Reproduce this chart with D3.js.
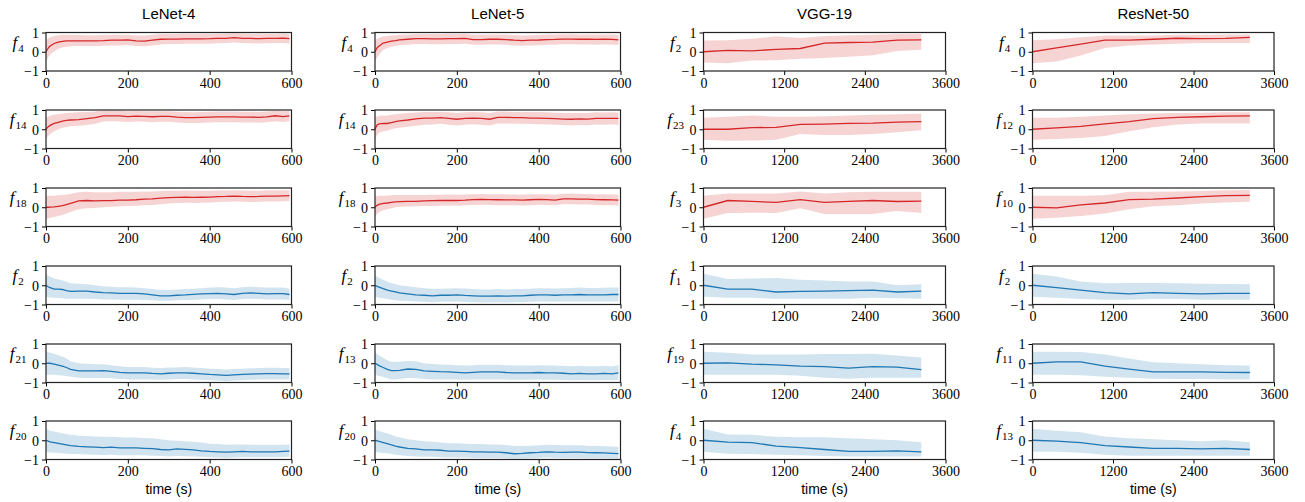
<!DOCTYPE html>
<html>
<head>
<meta charset="utf-8">
<script src="https://cdn.jsdelivr.net/npm/d3@7"></script>
<style>
  body { margin: 0; background: #fff; }
  .title { font-family: "Liberation Sans", sans-serif; font-size: 15px; text-anchor: middle; }
  .xlab { font-family: "Liberation Sans", sans-serif; font-size: 14px; text-anchor: middle; }
  .ylab { font-family: "Liberation Serif", serif; text-anchor: middle; }
</style>
</head>
<body>
<svg id="chart" width="1305" height="502"></svg>
<script>
// ---- data ----
var models = ["LeNet-4", "LeNet-5", "VGG-19", "ResNet-50"];
var yTicks = [-1, 0, 1];
var lenetTicks = [0, 200, 400, 600];
var longTicks = [0, 1200, 2400, 3600];

// feature index shown on each row, per model
var l4Features = ["4", "14", "18", "2", "21", "20"];
var l5Features = ["4", "14", "18", "2", "13", "20"];
var vggFeatures = ["2", "23", "3", "1", "19", "4"];
var resFeatures = ["4", "12", "10", "2", "11", "13"];

// sampling times (s)
var lenetTime = [0,5,10,20,30,40,50,60,80,100,120,140,160,180,200,220,240,260,280,300,320,340,360,380,400,420,440,460,480,500,520,540,560,580,595];
var longTime = [0,360,720,1080,1440,1800,2160,2520,2880,3240];

// LeNet-4
var l4f4Mean = [0,0.18,0.3,0.43,0.5,0.54,0.56,0.57,0.57,0.56,0.57,0.58,0.6,0.6,0.62,0.56,0.55,0.6,0.65,0.66,0.66,0.67,0.67,0.67,0.68,0.7,0.7,0.73,0.7,0.69,0.68,0.69,0.7,0.71,0.68];
var l4f4Hi = [0.6,0.68,0.75,0.82,0.86,0.88,0.88,0.88,0.87,0.86,0.86,0.87,0.88,0.88,0.88,0.85,0.84,0.88,0.92,0.92,0.92,0.93,0.92,0.93,0.93,0.94,0.95,0.96,0.95,0.94,0.93,0.93,0.94,0.95,0.93];
var l4f4Lo = [-0.5,-0.3,-0.15,0.02,0.15,0.22,0.26,0.28,0.3,0.3,0.3,0.31,0.33,0.33,0.35,0.3,0.28,0.33,0.38,0.4,0.4,0.41,0.41,0.42,0.42,0.44,0.45,0.48,0.45,0.44,0.43,0.44,0.45,0.46,0.43];
var l4f14Mean = [0,0.12,0.2,0.3,0.36,0.42,0.46,0.48,0.5,0.55,0.6,0.7,0.7,0.69,0.66,0.68,0.67,0.65,0.67,0.67,0.63,0.6,0.6,0.62,0.63,0.64,0.64,0.64,0.63,0.63,0.62,0.64,0.7,0.66,0.7];
var l4f14Hi = [0.6,0.65,0.7,0.75,0.78,0.82,0.85,0.86,0.88,0.9,0.92,0.97,0.97,0.96,0.94,0.95,0.94,0.93,0.94,0.94,0.91,0.89,0.88,0.9,0.91,0.92,0.92,0.92,0.91,0.91,0.9,0.92,0.96,0.94,0.96];
var l4f14Lo = [-0.5,-0.35,-0.25,-0.1,0,0.08,0.12,0.15,0.18,0.22,0.28,0.4,0.42,0.4,0.38,0.4,0.39,0.37,0.39,0.39,0.35,0.32,0.32,0.33,0.35,0.36,0.36,0.36,0.35,0.35,0.34,0.36,0.42,0.38,0.42];
var l4f18Mean = [0,0,0.01,0.02,0.05,0.08,0.14,0.2,0.33,0.35,0.33,0.34,0.34,0.37,0.37,0.39,0.42,0.43,0.47,0.5,0.51,0.52,0.51,0.52,0.53,0.55,0.56,0.58,0.56,0.55,0.56,0.58,0.58,0.59,0.6];
var l4f18Hi = [0.6,0.6,0.6,0.6,0.62,0.63,0.66,0.7,0.78,0.8,0.78,0.78,0.78,0.8,0.8,0.8,0.82,0.82,0.84,0.86,0.86,0.87,0.86,0.86,0.86,0.87,0.87,0.88,0.87,0.86,0.86,0.88,0.88,0.88,0.88];
var l4f18Lo = [-0.6,-0.58,-0.55,-0.5,-0.45,-0.4,-0.32,-0.25,-0.1,-0.05,-0.04,0,0.02,0.05,0.06,0.08,0.1,0.12,0.16,0.2,0.22,0.23,0.22,0.24,0.25,0.27,0.28,0.3,0.28,0.27,0.28,0.3,0.3,0.31,0.32];
var l4f2Mean = [0,-0.08,-0.12,-0.2,-0.2,-0.22,-0.28,-0.32,-0.3,-0.3,-0.35,-0.38,-0.4,-0.42,-0.42,-0.42,-0.45,-0.5,-0.55,-0.55,-0.52,-0.5,-0.47,-0.45,-0.43,-0.42,-0.45,-0.48,-0.42,-0.4,-0.42,-0.45,-0.44,-0.43,-0.48];
var l4f2Hi = [0.6,0.5,0.45,0.35,0.3,0.25,0.18,0.1,0.08,0.05,0,-0.05,-0.08,-0.1,-0.1,-0.12,-0.15,-0.2,-0.25,-0.25,-0.22,-0.2,-0.18,-0.15,-0.12,-0.1,-0.12,-0.15,-0.1,-0.08,-0.1,-0.12,-0.12,-0.12,-0.18];
var l4f2Lo = [-0.6,-0.62,-0.63,-0.65,-0.66,-0.68,-0.7,-0.7,-0.7,-0.7,-0.72,-0.74,-0.74,-0.75,-0.75,-0.75,-0.76,-0.78,-0.8,-0.8,-0.78,-0.77,-0.76,-0.74,-0.72,-0.72,-0.74,-0.76,-0.72,-0.7,-0.72,-0.74,-0.74,-0.74,-0.76];
var l4f21Mean = [0,0,0,-0.05,-0.1,-0.15,-0.22,-0.32,-0.4,-0.4,-0.4,-0.38,-0.42,-0.47,-0.5,-0.5,-0.5,-0.53,-0.55,-0.52,-0.5,-0.5,-0.52,-0.55,-0.58,-0.6,-0.63,-0.6,-0.58,-0.56,-0.55,-0.54,-0.54,-0.55,-0.55];
var l4f21Hi = [0.6,0.58,0.55,0.5,0.42,0.35,0.25,0.1,0,-0.02,-0.05,-0.05,-0.1,-0.15,-0.2,-0.2,-0.2,-0.23,-0.25,-0.22,-0.22,-0.2,-0.22,-0.25,-0.28,-0.3,-0.32,-0.3,-0.28,-0.26,-0.25,-0.24,-0.24,-0.25,-0.25];
var l4f21Lo = [-0.6,-0.6,-0.6,-0.6,-0.62,-0.63,-0.66,-0.7,-0.75,-0.76,-0.76,-0.76,-0.78,-0.82,-0.84,-0.84,-0.84,-0.85,-0.86,-0.84,-0.82,-0.82,-0.84,-0.86,-0.88,-0.9,-0.92,-0.9,-0.88,-0.86,-0.85,-0.84,-0.84,-0.85,-0.85];
var l4f20Mean = [0,-0.04,-0.08,-0.12,-0.16,-0.2,-0.24,-0.28,-0.32,-0.34,-0.36,-0.38,-0.36,-0.4,-0.4,-0.4,-0.42,-0.44,-0.48,-0.5,-0.45,-0.47,-0.5,-0.55,-0.58,-0.6,-0.62,-0.6,-0.58,-0.6,-0.6,-0.6,-0.6,-0.58,-0.57];
var l4f20Hi = [0.6,0.55,0.5,0.45,0.4,0.36,0.32,0.28,0.24,0.22,0.2,0.18,0.18,0.15,0.14,0.14,0.12,0.1,0.05,0,-0.02,-0.05,-0.08,-0.12,-0.18,-0.2,-0.24,-0.22,-0.22,-0.24,-0.24,-0.24,-0.24,-0.23,-0.22];
var l4f20Lo = [-0.6,-0.62,-0.64,-0.65,-0.66,-0.68,-0.7,-0.72,-0.72,-0.74,-0.75,-0.76,-0.75,-0.78,-0.78,-0.78,-0.78,-0.8,-0.82,-0.84,-0.82,-0.83,-0.84,-0.86,-0.88,-0.9,-0.92,-0.9,-0.88,-0.88,-0.88,-0.88,-0.88,-0.87,-0.86];

// LeNet-5
var l5f4Mean = [0,0.2,0.3,0.45,0.5,0.55,0.58,0.62,0.65,0.68,0.68,0.67,0.67,0.68,0.68,0.69,0.63,0.63,0.65,0.65,0.63,0.6,0.58,0.6,0.61,0.63,0.64,0.66,0.66,0.65,0.65,0.64,0.65,0.64,0.62];
var l5f4Hi = [0.6,0.68,0.72,0.8,0.82,0.85,0.86,0.88,0.9,0.92,0.92,0.92,0.92,0.93,0.93,0.94,0.9,0.89,0.9,0.9,0.89,0.87,0.85,0.86,0.87,0.89,0.9,0.91,0.91,0.9,0.9,0.9,0.9,0.89,0.88];
var l5f4Lo = [-0.5,-0.3,-0.15,0.1,0.2,0.26,0.3,0.34,0.37,0.4,0.4,0.39,0.39,0.4,0.4,0.41,0.36,0.36,0.38,0.38,0.36,0.33,0.31,0.33,0.34,0.36,0.37,0.39,0.39,0.38,0.38,0.37,0.38,0.37,0.35];
var l5f14Mean = [0,0.22,0.28,0.3,0.3,0.35,0.4,0.43,0.48,0.54,0.58,0.58,0.6,0.56,0.52,0.56,0.58,0.56,0.52,0.62,0.62,0.6,0.6,0.58,0.58,0.57,0.55,0.53,0.52,0.54,0.53,0.57,0.56,0.57,0.56];
var l5f14Hi = [0.6,0.66,0.7,0.72,0.72,0.75,0.78,0.8,0.84,0.87,0.9,0.9,0.9,0.88,0.85,0.88,0.9,0.88,0.85,0.92,0.92,0.9,0.9,0.89,0.89,0.88,0.86,0.85,0.84,0.85,0.85,0.88,0.87,0.88,0.87];
var l5f14Lo = [-0.55,-0.3,-0.18,-0.1,-0.08,0,0.05,0.08,0.13,0.18,0.24,0.25,0.28,0.24,0.2,0.24,0.26,0.24,0.2,0.3,0.3,0.28,0.28,0.27,0.26,0.25,0.23,0.22,0.2,0.22,0.21,0.25,0.24,0.25,0.24];
var l5f18Mean = [0,0.1,0.15,0.2,0.22,0.25,0.28,0.29,0.3,0.31,0.33,0.34,0.35,0.36,0.35,0.37,0.4,0.41,0.4,0.39,0.38,0.38,0.37,0.39,0.41,0.4,0.37,0.43,0.44,0.42,0.42,0.4,0.39,0.38,0.37];
var l5f18Hi = [0.55,0.58,0.6,0.6,0.6,0.62,0.63,0.63,0.63,0.63,0.64,0.65,0.65,0.66,0.65,0.66,0.68,0.69,0.68,0.68,0.67,0.66,0.65,0.67,0.68,0.68,0.65,0.7,0.71,0.69,0.69,0.68,0.67,0.66,0.65];
var l5f18Lo = [-0.55,-0.35,-0.25,-0.15,-0.1,-0.05,0,0.02,0.04,0.05,0.06,0.07,0.08,0.09,0.08,0.1,0.12,0.13,0.12,0.11,0.1,0.1,0.09,0.11,0.13,0.12,0.1,0.15,0.16,0.14,0.14,0.12,0.11,0.1,0.09];
var l5f2Mean = [0,-0.06,-0.1,-0.18,-0.25,-0.3,-0.35,-0.4,-0.45,-0.5,-0.52,-0.55,-0.52,-0.52,-0.5,-0.53,-0.55,-0.57,-0.56,-0.55,-0.57,-0.55,-0.55,-0.52,-0.5,-0.5,-0.52,-0.5,-0.5,-0.48,-0.5,-0.5,-0.5,-0.48,-0.48];
var l5f2Hi = [0.5,0.45,0.38,0.28,0.18,0.1,0.05,0,-0.05,-0.1,-0.15,-0.18,-0.18,-0.17,-0.15,-0.17,-0.2,-0.22,-0.22,-0.2,-0.22,-0.2,-0.2,-0.18,-0.15,-0.15,-0.17,-0.15,-0.14,-0.12,-0.14,-0.14,-0.13,-0.12,-0.12];
var l5f2Lo = [-0.6,-0.62,-0.65,-0.68,-0.72,-0.75,-0.78,-0.8,-0.82,-0.84,-0.86,-0.88,-0.86,-0.86,-0.85,-0.87,-0.88,-0.9,-0.89,-0.88,-0.9,-0.88,-0.88,-0.86,-0.85,-0.85,-0.86,-0.85,-0.85,-0.84,-0.85,-0.85,-0.85,-0.84,-0.84];
var l5f13Mean = [0,-0.06,-0.12,-0.22,-0.32,-0.38,-0.38,-0.37,-0.3,-0.32,-0.4,-0.42,-0.44,-0.45,-0.47,-0.5,-0.47,-0.45,-0.45,-0.45,-0.48,-0.5,-0.5,-0.5,-0.48,-0.5,-0.5,-0.52,-0.55,-0.53,-0.55,-0.55,-0.53,-0.55,-0.5];
var l5f13Hi = [0.55,0.48,0.4,0.28,0.15,0.08,0.08,0.08,0.12,0.1,0,-0.04,-0.06,-0.08,-0.1,-0.12,-0.1,-0.08,-0.08,-0.08,-0.1,-0.12,-0.12,-0.12,-0.1,-0.12,-0.12,-0.14,-0.16,-0.14,-0.16,-0.16,-0.14,-0.15,-0.1];
var l5f13Lo = [-0.6,-0.62,-0.66,-0.72,-0.78,-0.84,-0.84,-0.82,-0.76,-0.78,-0.82,-0.84,-0.84,-0.84,-0.85,-0.86,-0.85,-0.84,-0.84,-0.84,-0.85,-0.86,-0.86,-0.86,-0.85,-0.86,-0.86,-0.87,-0.88,-0.87,-0.88,-0.88,-0.87,-0.88,-0.86];
var l5f20Mean = [0,-0.03,-0.06,-0.12,-0.18,-0.24,-0.3,-0.35,-0.42,-0.45,-0.5,-0.5,-0.52,-0.56,-0.56,-0.58,-0.6,-0.6,-0.62,-0.62,-0.65,-0.7,-0.68,-0.65,-0.63,-0.6,-0.62,-0.63,-0.62,-0.62,-0.64,-0.65,-0.66,-0.68,-0.7];
var l5f20Hi = [0.55,0.52,0.48,0.42,0.35,0.28,0.2,0.15,0.05,0,-0.05,-0.08,-0.12,-0.15,-0.16,-0.18,-0.2,-0.2,-0.22,-0.22,-0.25,-0.3,-0.3,-0.28,-0.26,-0.24,-0.25,-0.26,-0.26,-0.26,-0.28,-0.3,-0.3,-0.32,-0.35];
var l5f20Lo = [-0.6,-0.62,-0.64,-0.66,-0.68,-0.72,-0.75,-0.78,-0.82,-0.84,-0.86,-0.86,-0.88,-0.9,-0.9,-0.9,-0.92,-0.92,-0.92,-0.92,-0.94,-0.96,-0.95,-0.94,-0.92,-0.9,-0.92,-0.92,-0.92,-0.92,-0.93,-0.94,-0.94,-0.95,-0.96];

// VGG-19
var vf2Mean = [0,0.07,0.05,0.12,0.17,0.45,0.48,0.5,0.6,0.62];
var vf2Hi = [0.58,0.6,0.68,0.8,0.72,0.82,0.86,0.88,0.92,0.92];
var vf2Lo = [-0.56,-0.6,-0.46,-0.44,-0.36,-0.32,-0.26,-0.18,0.04,0.1];
var vf23Mean = [0,0,0.08,0.1,0.25,0.27,0.3,0.32,0.37,0.4];
var vf23Hi = [0.6,0.65,0.72,0.65,0.65,0.68,0.72,0.75,0.78,0.8];
var vf23Lo = [-0.55,-0.6,-0.58,-0.55,-0.25,-0.3,-0.3,-0.25,-0.15,-0.05];
var vf3Mean = [0,0.35,0.3,0.25,0.4,0.25,0.3,0.35,0.3,0.32];
var vf3Hi = [0.6,0.72,0.72,0.72,0.82,0.72,0.78,0.8,0.8,0.8];
var vf3Lo = [-0.6,-0.3,-0.28,-0.3,-0.05,-0.35,-0.35,-0.35,-0.2,-0.3];
var vf1Mean = [0,-0.2,-0.2,-0.35,-0.32,-0.3,-0.28,-0.25,-0.35,-0.3];
var vf1Hi = [0.6,0.32,0.35,0.38,0.28,0.25,0.2,0.2,0,0.05];
var vf1Lo = [-0.6,-0.65,-0.65,-0.7,-0.7,-0.7,-0.7,-0.65,-0.68,-0.7];
var vf19Mean = [0,0.02,-0.05,-0.08,-0.15,-0.18,-0.25,-0.18,-0.2,-0.33];
var vf19Hi = [0.6,0.55,0.45,0.45,0.45,0.48,0.48,0.5,0.4,0.3];
var vf19Lo = [-0.6,-0.6,-0.6,-0.6,-0.65,-0.75,-0.8,-0.75,-0.75,-0.75];
var vf4Mean = [0,-0.1,-0.12,-0.3,-0.38,-0.48,-0.58,-0.58,-0.55,-0.6];
var vf4Hi = [0.6,0.3,0.28,0.18,0.15,0.15,0.1,0.05,0,-0.1];
var vf4Lo = [-0.6,-0.7,-0.72,-0.75,-0.78,-0.82,-0.85,-0.85,-0.85,-0.85];

// ResNet-50
var rf4Mean = [0,0.2,0.4,0.6,0.6,0.65,0.7,0.68,0.7,0.75];
var rf4Hi = [0.6,0.65,0.75,0.85,0.85,0.85,0.88,0.88,0.9,0.9];
var rf4Lo = [-0.6,-0.5,-0.2,0.2,0.32,0.38,0.42,0.45,0.45,0.45];
var rf12Mean = [0,0.07,0.15,0.28,0.4,0.55,0.62,0.65,0.68,0.7];
var rf12Hi = [0.6,0.6,0.65,0.72,0.78,0.82,0.85,0.86,0.88,0.88];
var rf12Lo = [-0.55,-0.5,-0.45,-0.35,-0.1,0.1,0.25,0.3,0.3,0.3];
var rf10Mean = [0,-0.03,0.12,0.22,0.4,0.42,0.48,0.55,0.6,0.62];
var rf10Hi = [0.6,0.6,0.6,0.62,0.8,0.8,0.82,0.85,0.88,0.9];
var rf10Lo = [-0.6,-0.55,-0.45,-0.32,-0.1,0.05,0.1,0.2,0.25,0.28];
var rf2Mean = [0,-0.12,-0.25,-0.38,-0.45,-0.38,-0.42,-0.45,-0.42,-0.42];
var rf2Hi = [0.6,0.45,0.2,0.1,0.12,0.12,0.1,0.08,0.06,0.05];
var rf2Lo = [-0.6,-0.65,-0.72,-0.75,-0.75,-0.72,-0.72,-0.75,-0.75,-0.75];
var rf11Mean = [0,0.07,0.07,-0.15,-0.3,-0.45,-0.45,-0.45,-0.47,-0.48];
var rf11Hi = [0.6,0.6,0.58,0.45,0.25,0.05,0,-0.05,-0.1,-0.12];
var rf11Lo = [-0.6,-0.6,-0.62,-0.7,-0.75,-0.8,-0.82,-0.82,-0.85,-0.85];
var rf13Mean = [0,-0.05,-0.12,-0.28,-0.35,-0.42,-0.42,-0.45,-0.42,-0.48];
var rf13Hi = [0.6,0.5,0.42,0.2,0.1,0.05,0,-0.05,0,-0.1];
var rf13Lo = [-0.6,-0.6,-0.65,-0.75,-0.8,-0.8,-0.8,-0.8,-0.8,-0.8];

// one column per model: features, time, x range, ticks, and [mean, lo, hi] per row
var columns = [
  { feats: l4Features, time: lenetTime, xmax: 600, ticks: lenetTicks,
    rows: [[l4f4Mean,l4f4Lo,l4f4Hi],[l4f14Mean,l4f14Lo,l4f14Hi],[l4f18Mean,l4f18Lo,l4f18Hi],
           [l4f2Mean,l4f2Lo,l4f2Hi],[l4f21Mean,l4f21Lo,l4f21Hi],[l4f20Mean,l4f20Lo,l4f20Hi]] },
  { feats: l5Features, time: lenetTime, xmax: 600, ticks: lenetTicks,
    rows: [[l5f4Mean,l5f4Lo,l5f4Hi],[l5f14Mean,l5f14Lo,l5f14Hi],[l5f18Mean,l5f18Lo,l5f18Hi],
           [l5f2Mean,l5f2Lo,l5f2Hi],[l5f13Mean,l5f13Lo,l5f13Hi],[l5f20Mean,l5f20Lo,l5f20Hi]] },
  { feats: vggFeatures, time: longTime, xmax: 3600, ticks: longTicks,
    rows: [[vf2Mean,vf2Lo,vf2Hi],[vf23Mean,vf23Lo,vf23Hi],[vf3Mean,vf3Lo,vf3Hi],
           [vf1Mean,vf1Lo,vf1Hi],[vf19Mean,vf19Lo,vf19Hi],[vf4Mean,vf4Lo,vf4Hi]] },
  { feats: resFeatures, time: longTime, xmax: 3600, ticks: longTicks,
    rows: [[rf4Mean,rf4Lo,rf4Hi],[rf12Mean,rf12Lo,rf12Hi],[rf10Mean,rf10Lo,rf10Hi],
           [rf2Mean,rf2Lo,rf2Hi],[rf11Mean,rf11Lo,rf11Hi],[rf13Mean,rf13Lo,rf13Hi]] }
];

// ---- layout ----
var colLeft = [46, 375, 703.5, 1032.5];
var colWidth = [245.5, 245.5, 242, 241.5];
var rowTop = [32.5, 110, 188, 266, 344, 421];
var rowH = 38.5;
var red = "#d62728", blue = "#1f77b4";
var tickFont = "'Liberation Serif', 'Times New Roman', serif";

var svg = d3.select("#chart");

// style the axis text directly (d3 puts sans-serif on the axis group)
function styleAxis(a) {
  a.attr("font-family", tickFont).attr("font-size", 14);
  a.select(".domain").remove();
  a.selectAll("line").attr("stroke", "#000");
  a.selectAll("text").attr("fill", "#000")
    .style("font-family", tickFont).style("font-size", "14px");
}

columns.forEach(function(col, c) {
  var x = d3.scaleLinear().domain([0, col.xmax]).range([0, colWidth[c]]);

  svg.append("text").attr("class", "title")
    .attr("x", colLeft[c] + colWidth[c] / 2).attr("y", 18.5)
    .text(models[c]);

  col.rows.forEach(function(r, i) {
    var mean = r[0], lo = r[1], hi = r[2];
    var color = i < 3 ? red : blue;
    var y = d3.scaleLinear().domain([-1, 1]).range([rowH, 0]);
    var g = svg.append("g").attr("transform", "translate(" + colLeft[c] + "," + rowTop[i] + ")");

    var pts = col.time.map(function(t, k) { return { t: t, m: mean[k], lo: lo[k], hi: hi[k] }; });

    var area = d3.area()
      .x(function(d) { return x(d.t); })
      .y0(function(d) { return y(d.lo); })
      .y1(function(d) { return y(d.hi); });
    var line = d3.line()
      .x(function(d) { return x(d.t); })
      .y(function(d) { return y(d.m); });

    g.append("path").datum(pts)
      .attr("d", area).attr("fill", color).attr("fill-opacity", 0.2);
    g.append("path").datum(pts)
      .attr("d", line).attr("fill", "none").attr("stroke", color).attr("stroke-width", 1.3);

    // axes
    g.append("g").attr("transform", "translate(0," + rowH + ")")
      .call(d3.axisBottom(x).tickValues(col.ticks).tickFormat(d3.format("d")).tickSize(4).tickPadding(3))
      .call(styleAxis);
    g.append("g")
      .call(d3.axisLeft(y).tickValues(yTicks).tickFormat(function(d) { return d < 0 ? "\u2212" + Math.abs(d) : d; }).tickSize(4).tickPadding(3))
      .call(styleAxis)
      .call(function(a) { a.selectAll("text").attr("dy", "0.34em"); });

    g.append("rect").attr("width", colWidth[c]).attr("height", rowH)
      .attr("fill", "none").attr("stroke", "#222").attr("stroke-width", 1.2);

    // y label f_k
    var lab = g.append("text").attr("class", "ylab")
      .attr("x", -28).attr("y", rowH / 2 - 4);
    lab.append("tspan").attr("font-style", "italic").attr("font-size", "17px").text("f");
    lab.append("tspan").attr("font-size", "11px").attr("dy", 4).attr("dx", 1).text(col.feats[i]);

    if (i === 5) {
      svg.append("text").attr("class", "xlab")
        .attr("x", colLeft[c] + colWidth[c] / 2).attr("y", 494)
        .text("time (s)");
    }
  });
});
</script>
</body>
</html>
